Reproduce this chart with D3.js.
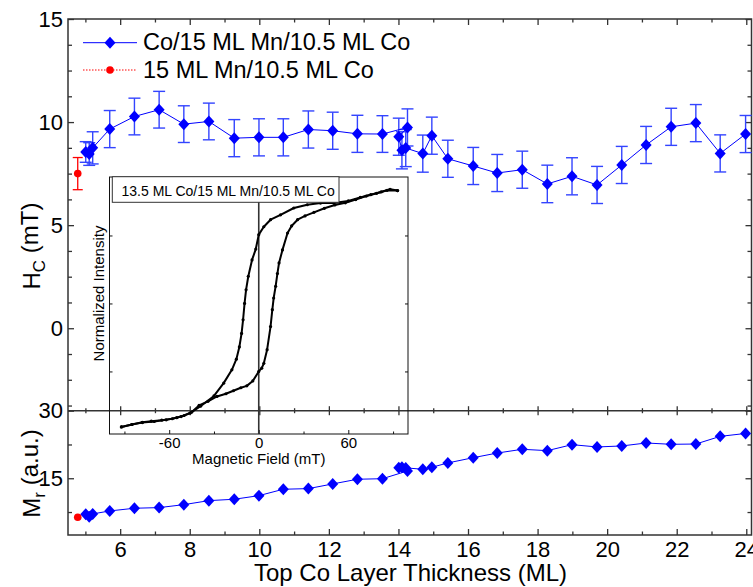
<!DOCTYPE html>
<html>
<head>
<meta charset="utf-8">
<script src="https://cdn.jsdelivr.net/npm/d3@7"></script>
<style>
  body { margin: 0; background: #fff; }
  text { font-family: "Liberation Sans", Arial, sans-serif; fill: #000; }
</style>
</head>
<body>
<svg id="chart" width="753" height="587"></svg>
<script>
// Trilayer wedge: top Co thickness (ML), coercivity Hc (mT) with error, remanence Mr (a.u.)
const thickness = [5.01, 5.11, 5.21, 5.70, 6.41, 7.12, 7.83, 8.55, 9.28, 9.99, 10.69, 11.41, 12.11, 12.82, 13.54,
                   14.26, 14.01, 14.10, 14.21, 14.70, 14.96, 15.42, 16.15, 16.84, 17.56, 18.28, 18.99, 19.71, 20.42,
                   21.12, 21.84, 22.55, 23.25, 23.98];
const hc = [8.55, 8.45, 8.75, 9.66, 10.27, 10.60, 9.90, 10.03, 9.22, 9.26, 9.26, 9.64, 9.58, 9.43, 9.42,
            9.74, 9.29, 8.63, 8.74, 8.47, 9.34, 8.22, 7.87, 7.53, 7.69, 7.00, 7.37, 6.95, 7.92,
            8.89, 9.77, 9.95, 8.48, 9.42];
const hcErr = [0.50, 0.55, 0.78, 0.90, 0.89, 0.89, 0.89, 0.89, 0.90, 0.90, 0.90, 0.90, 0.90, 0.90, 0.89,
               0.90, 0.90, 0.90, 0.90, 0.90, 0.90, 0.90, 0.90, 0.90, 0.90, 0.91, 0.90, 0.90, 0.90,
               0.90, 0.90, 0.90, 0.90, 0.90];
const mr = [7.00, 6.48, 7.08, 7.74, 8.34, 8.48, 9.14, 10.03, 10.34, 11.14, 12.56, 12.70, 13.74, 14.78, 14.90,
            16.62, 17.35, 17.44, 17.30, 17.00, 17.44, 18.40, 19.57, 20.60, 21.43, 21.13, 22.46, 21.95, 22.17,
            22.83, 22.54, 22.60, 24.30, 24.95];

// Bilayer reference (15 ML Mn / 10.5 ML Co)
const refThickness = [4.78];
const refHc = [7.50];
const refHcErr = [0.78];
const refMr = [6.35];

// Inset hysteresis loop (13.5 ML Co / 15 ML Mn / 10.5 ML Co)
const loopDownField = [93, 88, 82, 75, 68, 60, 50.3, 41.4, 32.5, 23.5, 14.6, 7.9, 3.4, 0, -2, -4.5, -7, -8.5, -9.5,
                       -10.5, -11.5, -13, -15, -18, -23.5, -30, -39, -46, -52, -58, -65, -72, -78, -85, -92];
const loopDownIntensity = [0.915, 0.92, 0.91, 0.90, 0.89, 0.877, 0.869, 0.869, 0.863, 0.851, 0.826, 0.808, 0.782,
                           0.753, 0.70, 0.66, 0.60, 0.55, 0.50, 0.44, 0.39, 0.34, 0.295, 0.256, 0.207, 0.16, 0.122,
                           0.097, 0.084, 0.076, 0.071, 0.067, 0.063, 0.055, 0.046];
const loopUpField = [-92, -85, -78, -70, -62, -55, -50, -45, -40, -34, -28, -22, -17, -12, -8, -4, 0, 2, 3.4, 5.6,
                     7.9, 9.1, 10, 11.3, 12.5, 13.6, 15.9, 19.3, 22, 26, 31, 37, 44, 51, 58, 65, 72, 79, 86, 93];
const loopUpIntensity = [0.046, 0.055, 0.062, 0.066, 0.072, 0.08, 0.088, 0.10, 0.125, 0.14, 0.158, 0.168, 0.179,
                         0.19, 0.197, 0.215, 0.25, 0.262, 0.28, 0.33, 0.415, 0.477, 0.52, 0.563, 0.61, 0.649, 0.697,
                         0.759, 0.785, 0.808, 0.822, 0.835, 0.85, 0.862, 0.87, 0.882, 0.895, 0.905, 0.916, 0.915];

// Tick values and labels
const xMajorTicks = [6, 8, 10, 12, 14, 16, 18, 20, 22, 24];
const xMinorTicks = [5, 7, 9, 11, 13, 15, 17, 19, 21, 23];
const hcMajorTicks = [0, 5, 10, 15];
const hcMinorTicks = [-3.75, -2.5, -1.25, 1.25, 2.5, 3.75, 6.25, 7.5, 8.75, 11.25, 12.5, 13.75];
const mrMajorTicks = [15, 30];
const mrMinorTicks = [7.5, 22.5];
const fieldMajorTicks = [-60, 0, 60];
const fieldMinorTicks = [-90, -30, 30, 90];
const intensityTicks = [0.25, 0.5, 0.75];
const seriesLabels = ["Co/15 ML Mn/10.5 ML Co", "15 ML Mn/10.5 ML Co"];
const insetLabel = "13.5 ML Co/15 ML Mn/10.5 ML Co";

const BLUE = "#0000ff", ERR_BLUE = "#3344ff", RED = "#ff0000", AXIS = "#333";

const svg = d3.select("#chart");
const L = 68, R = 751.5, T = 19, MID = 410.7, B = 535;

const x = d3.scaleLinear([4.5, 24.15], [L, R]);
const yH = d3.scaleLinear([-4, 15], [MID, T]);
const yM = d3.scaleLinear([2.4, 30], [B, MID]);
const plain = d => String(d);

function styleAxis(g) {
  g.select(".domain").remove();
  g.selectAll(".tick line").attr("stroke", AXIS).attr("stroke-width", 1.3);
  g.selectAll(".tick text").attr("fill", "#000").style("font-family", '"Liberation Sans", Arial, sans-serif');
}
function axisGroup(axis, tx, ty, fontSize) {
  const g = svg.append("g").attr("transform", `translate(${tx},${ty})`).call(axis);
  styleAxis(g);
  if (fontSize) g.selectAll(".tick text").style("font-size", fontSize + "px");
  return g;
}

// ---- Main axes ----
axisGroup(d3.axisBottom(x).tickValues(xMajorTicks).tickSizeInner(-6).tickSizeOuter(0).tickPadding(6).tickFormat(plain), 0, B, 22);
axisGroup(d3.axisBottom(x).tickValues(xMinorTicks).tickSizeInner(-3.5).tickSizeOuter(0).tickFormat(""), 0, B);
axisGroup(d3.axisTop(x).tickValues(xMajorTicks).tickSizeInner(-6).tickSizeOuter(0).tickFormat(""), 0, T);
axisGroup(d3.axisTop(x).tickValues(xMinorTicks).tickSizeInner(-3.5).tickSizeOuter(0).tickFormat(""), 0, T);
// shared boundary between the panels: ticks on both sides
axisGroup(d3.axisTop(x).tickValues(xMajorTicks).tickSizeInner(4.5).tickSizeOuter(0).tickFormat(""), 0, MID);
axisGroup(d3.axisBottom(x).tickValues(xMajorTicks).tickSizeInner(4.5).tickSizeOuter(0).tickFormat(""), 0, MID);
axisGroup(d3.axisTop(x).tickValues(xMinorTicks).tickSizeInner(2.5).tickSizeOuter(0).tickFormat(""), 0, MID);
axisGroup(d3.axisBottom(x).tickValues(xMinorTicks).tickSizeInner(2.5).tickSizeOuter(0).tickFormat(""), 0, MID);

axisGroup(d3.axisLeft(yH).tickValues(hcMajorTicks).tickSizeInner(-6).tickSizeOuter(0).tickPadding(5).tickFormat(plain), L, 0, 22);
axisGroup(d3.axisLeft(yH).tickValues(hcMinorTicks).tickSizeInner(-4).tickSizeOuter(0).tickFormat(""), L, 0);
axisGroup(d3.axisRight(yH).tickValues(hcMajorTicks).tickSizeInner(-6).tickSizeOuter(0).tickFormat(""), R, 0);
axisGroup(d3.axisRight(yH).tickValues(hcMinorTicks).tickSizeInner(-4).tickSizeOuter(0).tickFormat(""), R, 0);

axisGroup(d3.axisLeft(yM).tickValues(mrMajorTicks).tickSizeInner(-6).tickSizeOuter(0).tickPadding(5).tickFormat(plain), L, 0, 22);
axisGroup(d3.axisLeft(yM).tickValues(mrMinorTicks).tickSizeInner(-4).tickSizeOuter(0).tickFormat(""), L, 0);
axisGroup(d3.axisRight(yM).tickValues(mrMajorTicks).tickSizeInner(-6).tickSizeOuter(0).tickFormat(""), R, 0);
axisGroup(d3.axisRight(yM).tickValues(mrMinorTicks).tickSizeInner(-4).tickSizeOuter(0).tickFormat(""), R, 0);

// panel frames
svg.append("rect").attr("x", L).attr("y", T).attr("width", R - L).attr("height", B - T)
  .attr("fill", "none").attr("stroke", AXIS).attr("stroke-width", 1.5);
svg.append("line").attr("x1", L).attr("x2", R).attr("y1", MID).attr("y2", MID)
  .attr("stroke", AXIS).attr("stroke-width", 1.5);

// ---- Axis titles ----
svg.append("text").attr("x", 410.5).attr("y", 581).attr("text-anchor", "middle")
  .style("font-size", "24px").text("Top Co Layer Thickness (ML)");

function subTitle(cx, cy, main, sub, rest) {
  const t = svg.append("text").attr("transform", `translate(${cx},${cy}) rotate(-90)`)
    .attr("text-anchor", "middle").style("font-size", "24px");
  t.append("tspan").text(main);
  t.append("tspan").attr("dy", "0.3em").style("font-size", "17px").text(sub);
  t.append("tspan").attr("dy", "-0.3em").text(rest);
}
subTitle(40, 246, "H", "C", " (mT)");
subTitle(40, 473.5, "M", "r", " (a.u.)");

// ---- Inset: hysteresis loop ----
const xi = d3.scaleLinear([-100, 100], [109.5, 408]);
const yi = d3.scaleLinear([0.02, 0.965], [434, 177]);
const inset = svg.append("g");

function insetAxis(axis, tx, ty) {
  const g = inset.append("g").attr("transform", `translate(${tx},${ty})`).call(axis);
  g.select(".domain").remove();
  g.selectAll(".tick line").attr("stroke", "#111").attr("stroke-width", 1);
  g.selectAll(".tick text").style("font-size", "15px").attr("fill", "#000")
    .style("font-family", '"Liberation Sans", Arial, sans-serif');
  return g;
}
insetAxis(d3.axisBottom(xi).tickValues(fieldMajorTicks).tickSizeInner(-4).tickSizeOuter(0).tickPadding(3.5).tickFormat(plain), 0, 434);
insetAxis(d3.axisBottom(xi).tickValues(fieldMinorTicks).tickSizeInner(-2.5).tickSizeOuter(0).tickFormat(""), 0, 434);
insetAxis(d3.axisLeft(yi).tickValues(intensityTicks).tickSizeInner(-3).tickSizeOuter(0).tickFormat(""), 109.5, 0);
insetAxis(d3.axisRight(yi).tickValues(intensityTicks).tickSizeInner(-3).tickSizeOuter(0).tickFormat(""), 408, 0);

inset.append("rect").attr("x", 109.5).attr("y", 177).attr("width", 408 - 109.5).attr("height", 434 - 177)
  .attr("fill", "none").attr("stroke", "#111").attr("stroke-width", 1);
inset.append("line").attr("x1", xi(0)).attr("x2", xi(0)).attr("y1", 177).attr("y2", 434)
  .attr("stroke", "#333").attr("stroke-width", 1.6);

const loopLine = d3.line().x(d => xi(d[0])).y(d => yi(d[1]));
const branches = [
  d3.zip(loopDownField, loopDownIntensity),
  d3.zip(loopUpField, loopUpIntensity)
];
branches.forEach(br => {
  inset.append("path").datum(br).attr("d", loopLine)
    .attr("fill", "none").attr("stroke", "#000").attr("stroke-width", 2).attr("stroke-linejoin", "round");
  inset.selectAll(null).data(br).join("circle")
    .attr("cx", d => xi(d[0])).attr("cy", d => yi(d[1])).attr("r", 1.6).attr("fill", "#000");
});

inset.append("rect").attr("x", 112.3).attr("y", 176.7).attr("width", 226.7).attr("height", 25.6)
  .attr("fill", "#fff").attr("stroke", "#333").attr("stroke-width", 1);
inset.append("text").attr("x", 121.5).attr("y", 196.3).style("font-size", "14px").text(insetLabel);

inset.append("text").attr("x", xi(0)).attr("y", 464).attr("text-anchor", "middle")
  .style("font-size", "15px").text("Magnetic Field (mT)");
inset.append("text").attr("transform", "translate(104,293.5) rotate(-90)").attr("text-anchor", "middle")
  .style("font-size", "15px").text("Normalized Intensity");

// ---- Data marks ----
const diamond = "M0,-6L5.5,0L0,6L-5.5,0Z";
const trilayer = d3.range(thickness.length).map(i => ({ t: thickness[i], hc: hc[i], err: hcErr[i], mr: mr[i] }));
const bilayer = d3.range(refThickness.length).map(i => ({ t: refThickness[i], hc: refHc[i], err: refHcErr[i], mr: refMr[i] }));

// Hc panel: error bars, line, markers
const errG = svg.append("g").attr("stroke", ERR_BLUE).attr("stroke-width", 1.4);
trilayer.forEach(d => {
  const cx = x(d.t), y1 = yH(d.hc - d.err), y2 = yH(d.hc + d.err);
  errG.append("line").attr("x1", cx).attr("x2", cx).attr("y1", y1).attr("y2", y2);
  errG.append("line").attr("x1", cx - 6).attr("x2", cx + 6).attr("y1", y1).attr("y2", y1);
  errG.append("line").attr("x1", cx - 6).attr("x2", cx + 6).attr("y1", y2).attr("y2", y2);
});
const redErr = svg.append("g").attr("stroke", RED).attr("stroke-width", 1.3);
bilayer.forEach(d => {
  const cx = x(d.t), y1 = yH(d.hc - d.err), y2 = yH(d.hc + d.err);
  redErr.append("line").attr("x1", cx).attr("x2", cx).attr("y1", y1).attr("y2", y2);
  redErr.append("line").attr("x1", cx - 5).attr("x2", cx + 5).attr("y1", y1).attr("y2", y1);
  redErr.append("line").attr("x1", cx - 5).attr("x2", cx + 5).attr("y1", y2).attr("y2", y2);
});

svg.append("path").datum(trilayer).attr("d", d3.line().x(d => x(d.t)).y(d => yH(d.hc)))
  .attr("fill", "none").attr("stroke", BLUE).attr("stroke-width", 1);
svg.selectAll(".hcPt").data(trilayer).join("path").attr("class", "hcPt")
  .attr("transform", d => `translate(${x(d.t)},${yH(d.hc)})`).attr("d", diamond).attr("fill", BLUE);
svg.selectAll(".hcRef").data(bilayer).join("circle").attr("class", "hcRef")
  .attr("cx", d => x(d.t)).attr("cy", d => yH(d.hc)).attr("r", 3.8).attr("fill", RED);

// Mr panel
svg.append("path").datum(trilayer).attr("d", d3.line().x(d => x(d.t)).y(d => yM(d.mr)))
  .attr("fill", "none").attr("stroke", BLUE).attr("stroke-width", 1);
svg.selectAll(".mrPt").data(trilayer).join("path").attr("class", "mrPt")
  .attr("transform", d => `translate(${x(d.t)},${yM(d.mr)})`).attr("d", diamond).attr("fill", BLUE);
svg.selectAll(".mrRef").data(bilayer).join("circle").attr("class", "mrRef")
  .attr("cx", d => x(d.t)).attr("cy", d => yM(d.mr)).attr("r", 3.8).attr("fill", RED);

// ---- Legend ----
const leg = svg.append("g");
leg.append("line").attr("x1", 83).attr("x2", 137).attr("y1", 42.7).attr("y2", 42.7)
  .attr("stroke", BLUE).attr("stroke-width", 1);
leg.append("path").attr("transform", "translate(110,42.7)").attr("d", diamond).attr("fill", BLUE);
leg.append("text").attr("x", 143).attr("y", 49.5).style("font-size", "23.5px").text(seriesLabels[0]);
leg.append("line").attr("x1", 83).attr("x2", 137).attr("y1", 70).attr("y2", 70)
  .attr("stroke", RED).attr("stroke-width", 1).attr("stroke-dasharray", "1.5,1.5");
leg.append("circle").attr("cx", 110).attr("cy", 70).attr("r", 3.8).attr("fill", RED);
leg.append("text").attr("x", 143).attr("y", 77.5).style("font-size", "23.5px").text(seriesLabels[1]);
</script>
</body>
</html>
